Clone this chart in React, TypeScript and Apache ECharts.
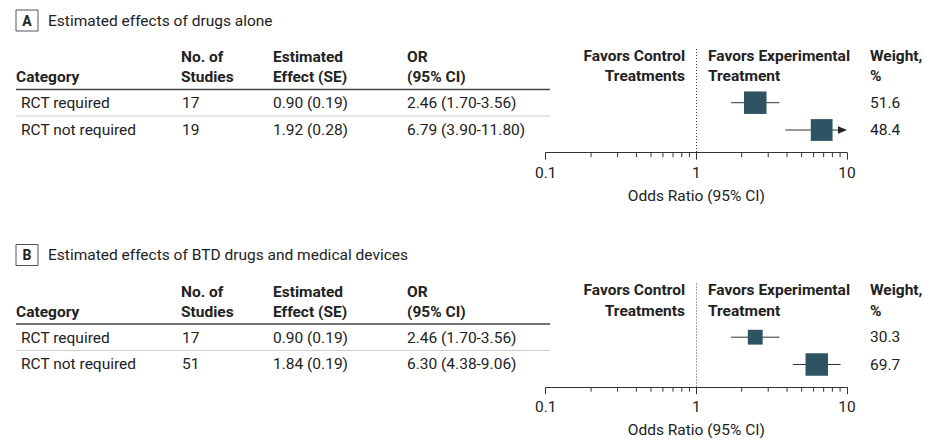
import React, { useEffect, useRef } from 'react';
import * as echarts from 'echarts';

// ---------- data ----------
const categories = ['RCT required', 'RCT not required'];
const panelLetters = ['A', 'B'];
const panelTitles = [
  'Estimated effects of drugs alone',
  'Estimated effects of BTD drugs and medical devices',
];
const studiesA = [17, 19];
const effectA = [0.9, 1.92];
const seA = [0.19, 0.28];
const orA = [2.46, 6.79];
const loA = [1.7, 3.9];
const hiA = [3.56, 11.8];
const weightA = [51.6, 48.4];

const studiesB = [17, 51];
const effectB = [0.9, 1.84];
const seB = [0.19, 0.19];
const orB = [2.46, 6.3];
const loB = [1.7, 4.38];
const hiB = [3.56, 9.06];
const weightB = [30.3, 69.7];

const tableHeaders1 = ['', 'No. of', 'Estimated', 'OR'];
const tableHeaders2 = ['Category', 'Studies', 'Effect (SE)', '(95% CI)'];
const xTicks = [0.1, 1, 10];
const minorTicks = [0.2, 0.3, 0.4, 0.5, 0.6, 0.7, 0.8, 0.9, 2, 3, 4, 5, 6, 7, 8, 9];
const axisName = 'Odds Ratio (95% CI)';

const panels = [
  { studies: studiesA, effect: effectA, se: seA, or: orA, lo: loA, hi: hiA, weight: weightA },
  { studies: studiesB, effect: effectB, se: seB, or: orB, lo: loB, hi: hiB, weight: weightB },
];

// ---------- layout ----------
const FONT = 'Roboto, "Noto Sans", sans-serif';
const FS = 15.5;
const TXT = '#222';
const BOX = '#2e5464';
const panelOffsets = [0, 234.5];
const colX = [16, 181, 273, 407];
const rowTextX = [21, 182, 273, 407];
const headY1 = 57;
const headY2 = 77;
const ruleY = 89.5;
const rowY = [103, 129.5];
const sepY = 116;
const plotTop = 49;
const axisY = 152.7;
const rowPlotY = [102.7, 130];
const gridLeft = 545.7;
const gridRight = 847;
const boxMax = 22.5;

export default function App() {
  const ref = useRef<HTMLDivElement>(null);
  useEffect(() => {
    document.body.style.margin = '0';
    const chart = echarts.init(ref.current!, null, { renderer: 'svg' });

    const txt = (x: number, y: number, text: string, opts: any = {}) => ({
      type: 'text',
      x,
      y,
      silent: true,
      style: {
        text,
        fill: TXT,
        fontFamily: FONT,
        fontSize: opts.size || FS,
        fontWeight: opts.bold ? 'bold' : 'normal',
        align: opts.align || 'left',
        verticalAlign: 'middle',
      },
    });

    const graphic: any[] = [];
    const grids: any[] = [];
    const xAxes: any[] = [];
    const yAxes: any[] = [];
    const series: any[] = [];

    panels.forEach((p, i) => {
      const dy = panelOffsets[i];
      // panel label box
      graphic.push({
        type: 'rect',
        shape: { x: 16, y: 10 + dy, width: 22, height: 21 },
        style: { fill: '#fff', stroke: '#555', lineWidth: 1 },
        silent: true,
      });
      graphic.push(txt(27, 20.5 + dy, panelLetters[i], { bold: true, align: 'center', size: 14 }));
      graphic.push(txt(48, 20.5 + dy, panelTitles[i]));
      // table headers
      tableHeaders1.forEach((h, c) => {
        if (h) graphic.push(txt(colX[c], headY1 + dy, h, { bold: true }));
      });
      tableHeaders2.forEach((h, c) => {
        graphic.push(txt(colX[c], headY2 + dy, h, { bold: true }));
      });
      graphic.push({
        type: 'line',
        shape: { x1: 16, y1: ruleY + dy, x2: 550, y2: ruleY + dy },
        style: { stroke: '#444', lineWidth: 1.5 },
        silent: true,
      });
      graphic.push({
        type: 'line',
        shape: { x1: 16, y1: sepY + dy, x2: 550, y2: sepY + dy },
        style: { stroke: '#ccc', lineWidth: 1 },
        silent: true,
      });
      categories.forEach((cat, r) => {
        const y = rowY[r] + dy;
        graphic.push(txt(rowTextX[0], y, cat));
        graphic.push(txt(rowTextX[1], y, String(p.studies[r])));
        graphic.push(txt(rowTextX[2], y, `${p.effect[r].toFixed(2)} (${p.se[r].toFixed(2)})`));
        graphic.push(
          txt(rowTextX[3], y, `${p.or[r].toFixed(2)} (${p.lo[r].toFixed(2)}-${p.hi[r].toFixed(2)})`)
        );
        graphic.push(txt(870, rowPlotY[r] + dy, p.weight[r].toFixed(1)));
      });
      // plot headers
      graphic.push(txt(685, 55.5 + dy, 'Favors Control', { bold: true, align: 'right' }));
      graphic.push(txt(685, 76 + dy, 'Treatments', { bold: true, align: 'right' }));
      graphic.push(txt(708, 55.5 + dy, 'Favors Experimental', { bold: true }));
      graphic.push(txt(708, 76 + dy, 'Treatment', { bold: true }));
      graphic.push(txt(870, 55.5 + dy, 'Weight,', { bold: true }));
      graphic.push(txt(870, 76 + dy, '%', { bold: true }));

      // grid & axes
      const top = plotTop + dy;
      const bottom = axisY + dy;
      const s = rowPlotY[1] - rowPlotY[0];
      const yMin = 1 - (rowPlotY[0] - plotTop) / s;
      const yMax = 2 + (axisY - rowPlotY[1]) / s;
      grids.push({
        left: gridLeft,
        width: gridRight - gridLeft,
        top,
        height: bottom - top,
      });
      xAxes.push({
        type: 'log',
        logBase: 10,
        min: xTicks[0],
        max: xTicks[xTicks.length - 1],
        gridIndex: i,
        position: 'bottom',
        name: axisName,
        nameLocation: 'middle',
        nameGap: 35,
        nameTextStyle: { color: TXT, fontFamily: FONT, fontSize: FS },
        axisLine: { show: true, onZero: false, lineStyle: { color: '#333', width: 1.2 } },
        axisTick: { show: true, length: 7, lineStyle: { color: '#333', width: 1 } },
        axisLabel: {
          color: TXT,
          fontFamily: FONT,
          fontSize: FS,
          margin: 12,
          formatter: (v: number) => String(v),
        },
        splitLine: { show: false },
      });
      yAxes.push({
        type: 'value',
        gridIndex: i,
        inverse: true,
        min: yMin,
        max: yMax,
        show: false,
        splitLine: { show: false },
      });

      const maxW = Math.max(...p.weight);
      const xMax = xTicks[xTicks.length - 1];
      series.push({
        type: 'custom',
        xAxisIndex: i,
        yAxisIndex: i,
        silent: true,
        clip: false,
        encode: { x: [0, 1, 2], y: 3 },
        data: categories.map((_, r) => [p.or[r], p.lo[r], p.hi[r], r + 1, p.weight[r]]),
        renderItem: (params: any, api: any) => {
          const est = api.value(0);
          const lo = api.value(1);
          const hi = api.value(2);
          const row = api.value(3);
          const w = api.value(4);
          const clipped = hi > xMax;
          const pLo = api.coord([lo, row]);
          const pHi = api.coord([Math.min(hi, xMax), row]);
          const pE = api.coord([est, row]);
          const size = boxMax * Math.sqrt(w / maxW);
          const children: any[] = [
            {
              type: 'line',
              shape: { x1: pLo[0], y1: pLo[1], x2: clipped ? pHi[0] - 6 : pHi[0], y2: pHi[1] },
              style: { stroke: '#333', lineWidth: 1 },
            },
            {
              type: 'rect',
              shape: { x: pE[0] - size / 2, y: pE[1] - size / 2, width: size, height: size },
              style: { fill: BOX },
            },
          ];
          if (clipped) {
            children.push({
              type: 'polygon',
              shape: {
                points: [
                  [pHi[0], pHi[1]],
                  [pHi[0] - 9, pHi[1] - 3.8],
                  [pHi[0] - 9, pHi[1] + 3.8],
                ],
              },
              style: { fill: '#222' },
            });
          }
          return { type: 'group', children };
        },
        markLine: {
          silent: true,
          symbol: 'none',
          label: { show: false },
          lineStyle: { type: [1, 2], color: '#444', width: 1 },
          data: [{ xAxis: 1 }],
        },
        z: 3,
      });
      // minor ticks
      series.push({
        type: 'custom',
        xAxisIndex: i,
        yAxisIndex: i,
        silent: true,
        clip: false,
        encode: { x: 0, y: 1 },
        data: minorTicks.map((v) => [v, yMax]),
        renderItem: (params: any, api: any) => {
          const pt = api.coord([api.value(0), api.value(1)]);
          return {
            type: 'line',
            shape: { x1: pt[0], y1: pt[1], x2: pt[0], y2: pt[1] + 4.5 },
            style: { stroke: '#333', lineWidth: 1 },
          };
        },
      });
    });

    chart.setOption({
      animation: false,
      grid: grids,
      xAxis: xAxes,
      yAxis: yAxes,
      series,
      graphic,
    });
    return () => chart.dispose();
  }, []);
  return <div ref={ref} style={{ width: 925, height: 444 }} />;
}
